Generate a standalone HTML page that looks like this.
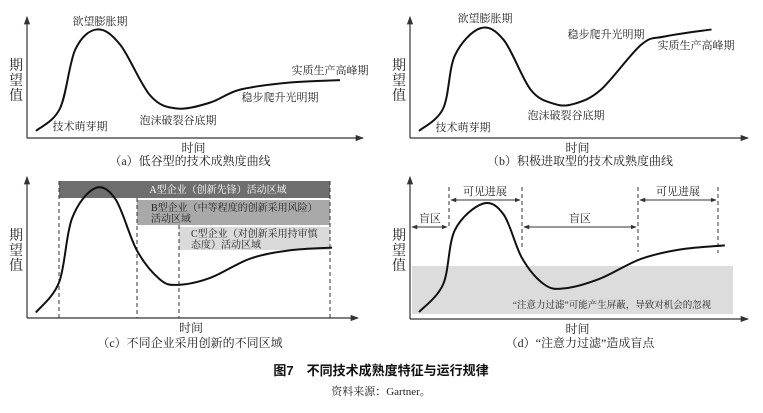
<!DOCTYPE html>
<html><head><meta charset="utf-8">
<style>
html,body{margin:0;padding:0;background:#fff;}
svg{display:block;font-family:"Liberation Serif","Noto Serif CJK SC","Noto Sans CJK SC",serif;}
.lab{font-size:11px;fill:#222;}
.ax{font-size:13px;fill:#222;}
.cap{font-size:12px;fill:#222;}
</style></head>
<body>
<svg id="fig" width="763" height="413" viewBox="0 0 763 413">
<defs>
<marker id="ah" viewBox="0 0 8 8" refX="7" refY="4" markerWidth="7" markerHeight="7" orient="auto"><path d="M0,1 L8,4 L0,7 z" fill="#333"/></marker>
<marker id="dh" viewBox="0 0 8 8" refX="7" refY="4" markerWidth="6" markerHeight="6" orient="auto-start-reverse"><path d="M0,1 L8,4 L0,7 z" fill="#333"/></marker>
</defs>

<!-- Panel C region bars -->
<rect x="59" y="181" width="271" height="17" fill="#6e6e6e"/>
<text x="218" y="193" text-anchor="middle" font-size="10" fill="#fff">A型企业（创新先锋）活动区域</text>
<rect x="137" y="200" width="193" height="25" fill="#a9a9a9"/>
<text x="151" y="211" font-size="10" fill="#222">B型企业（中等程度的创新采用风险）</text>
<text x="151" y="222" font-size="10" fill="#222">活动区域</text>
<rect x="179" y="227" width="151" height="23" fill="#dadada"/>
<text x="191" y="237" font-size="10" fill="#222">C型企业（对创新采用持审慎</text>
<text x="191" y="248" font-size="10" fill="#222">态度）活动区域</text>
<g stroke="#333" stroke-width="1" stroke-dasharray="4,3">
<line x1="59" y1="181" x2="59" y2="318"/><line x1="137" y1="198" x2="137" y2="318"/>
<line x1="179" y1="225" x2="179" y2="318"/><line x1="330" y1="181" x2="330" y2="318"/>
</g>

<!-- Panel D shaded area, dividers, arrows -->
<rect x="412" y="266" width="321" height="48" fill="#dcdcdc"/>
<text x="612" y="308" text-anchor="middle" font-size="9.5" fill="#222">“注意力过滤”可能产生屏蔽，导致对机会的忽视</text>
<g stroke="#333" stroke-width="1" stroke-dasharray="4,3">
<line x1="449" y1="187" x2="449" y2="229"/><line x1="522" y1="187" x2="522" y2="250"/>
<line x1="638" y1="187" x2="638" y2="252"/><line x1="718" y1="187" x2="718" y2="253"/>
</g>
<g stroke="#333" stroke-width="1">
<line x1="451" y1="200" x2="520" y2="200" marker-start="url(#dh)" marker-end="url(#dh)"/>
<line x1="640" y1="200" x2="716" y2="200" marker-start="url(#dh)" marker-end="url(#dh)"/>
<line x1="412" y1="227" x2="447" y2="227" marker-start="url(#dh)" marker-end="url(#dh)"/>
<line x1="524" y1="227" x2="636" y2="227" marker-start="url(#dh)" marker-end="url(#dh)"/>
</g>
<text x="485" y="195" text-anchor="middle" class="lab">可见进展</text>
<text x="678" y="195" text-anchor="middle" class="lab">可见进展</text>
<text x="430" y="222" text-anchor="middle" class="lab">盲区</text>
<text x="580" y="222" text-anchor="middle" class="lab">盲区</text>

<!-- Panel labels A -->
<text x="100" y="25" text-anchor="middle" class="lab">欲望膨胀期</text>
<text x="80" y="130" text-anchor="middle" class="lab">技术萌芽期</text>
<text x="178" y="124" text-anchor="middle" class="lab">泡沫破裂谷底期</text>
<text x="280" y="101" text-anchor="middle" class="lab">稳步爬升光明期</text>
<text x="330" y="74" text-anchor="middle" class="lab">实质生产高峰期</text>
<!-- Panel labels B -->
<text x="485" y="22" text-anchor="middle" class="lab">欲望膨胀期</text>
<text x="463" y="131" text-anchor="middle" class="lab">技术萌芽期</text>
<text x="566" y="119" text-anchor="middle" class="lab">泡沫破裂谷底期</text>
<text x="606" y="38" text-anchor="middle" class="lab">稳步爬升光明期</text>
<text x="696" y="49" text-anchor="middle" class="lab">实质生产高峰期</text>

<g id="panels"></g>

<text x="190" y="165" text-anchor="middle" class="cap">（a）低谷型的技术成熟度曲线</text>
<text x="580" y="165" text-anchor="middle" class="cap">（b）积极进取型的技术成熟度曲线</text>
<text x="190" y="347" text-anchor="middle" class="cap">（c）不同企业采用创新的不同区域</text>
<text x="580" y="347" text-anchor="middle" class="cap">（d）“注意力过滤”造成盲点</text>
<text x="381" y="375" text-anchor="middle" font-size="13" font-weight="bold" fill="#111" font-family="'Liberation Sans','Noto Sans CJK SC',sans-serif">图7　不同技术成熟度特征与运行规律</text>
<text x="381" y="395" text-anchor="middle" font-size="11" fill="#222">资料来源：Gartner。</text>
</svg>
<script>
// Curve data: time (0-100) and expectation (0-100) per panel
const aTime = [2.7, 9.9, 14.5, 21, 28, 37, 45, 55, 64, 79, 94];
const aExpect = [6, 25, 75, 92, 79, 36, 25, 30, 41, 47, 49];
const bTime = [2.7, 9.9, 13.4, 21, 28, 36, 43, 49, 57, 69, 76, 90];
const bExpect = [6, 25, 70, 93, 83, 41, 29, 29, 41, 79, 86, 92];
const cTime = [2.7, 9.8, 13.7, 20.7, 27, 33.5, 40.5, 46, 55.8, 68, 80, 93];
const cExpect = [4, 26, 72, 94, 86, 49, 28, 24, 29, 43, 49, 51];
const dTime = [2.7, 9.9, 13.4, 21.8, 28, 33.4, 40, 46, 56.7, 68.7, 80.6, 94];
const dExpect = [5, 25, 64, 83, 75, 44, 25, 22, 29, 43, 50, 53];

const panels = [
  {id:'a', t:aTime, e:aExpect, x0:27, x1:360, y0:138, y1:20, axisY:88},
  {id:'b', t:bTime, e:bExpect, x0:410, x1:745, y0:138, y1:20, axisY:88},
  {id:'c', t:cTime, e:cExpect, x0:27, x1:355, y0:318, y1:180, axisY:258},
  {id:'d', t:dTime, e:dExpect, x0:410, x1:745, y0:319, y1:180, axisY:258}
];
const NS = 'http://www.w3.org/2000/svg';
const root = document.getElementById('panels');
function mk(tag, attrs){const el=document.createElementNS(NS,tag);for(const k in attrs)el.setAttribute(k,attrs[k]);return el;}
panels.forEach(p=>{
  const xs = v => p.x0 + (p.x1 - p.x0) * v / 100;
  const ys = v => p.y0 - (p.y0 - p.y1) * v / 100;
  const g = mk('g',{});
  
  
  const xa = mk('line',{x1:p.x0,y1:p.y0,x2:p.x1+3,y2:p.y0,stroke:'#333','stroke-width':1.2,'marker-end':'url(#ah)'});
  
  
  const ya = mk('line',{x1:p.x0,y1:p.y0,x2:p.x0,y2:p.y1-3,stroke:'#333','stroke-width':1.2,'marker-end':'url(#ah)'});
  
  
  g.appendChild(xa); g.appendChild(ya);
  const pts = p.t.map((t,i)=>[xs(t), ys(p.e[i])]);
  let d = 'M' + pts[0][0] + ',' + pts[0][1];
  for(let i=0;i<pts.length-1;i++){
    const p0=pts[Math.max(i-1,0)], p1=pts[i], p2=pts[i+1], p3=pts[Math.min(i+2,pts.length-1)];
    const c1=[p1[0]+(p2[0]-p0[0])/6, p1[1]+(p2[1]-p0[1])/6];
    const c2=[p2[0]-(p3[0]-p1[0])/6, p2[1]-(p3[1]-p1[1])/6];
    d += ' C'+c1[0]+','+c1[1]+' '+c2[0]+','+c2[1]+' '+p2[0]+','+p2[1];
  }
  const path = mk('path',{d:d,fill:'none',stroke:'#111','stroke-width':2});
  
  
  g.appendChild(path);
  const yt = mk('text',{x:p.x0-11,y:p.axisY-18,'text-anchor':'middle','font-size':'14',fill:'#222'});
  
  
  ['期','望','值'].forEach((ch,i)=>{const ts=mk('tspan',{x:p.x0-11,dy:i?15:0});ts.textContent=ch;yt.appendChild(ts);});
  g.appendChild(yt);
  const xt = mk('text',{x:(p.x0+p.x1)/2,y:p.y0+14,'text-anchor':'middle','font-size':'12',fill:'#222'});
  
  
  xt.textContent='时间';
  g.appendChild(xt);
  root.appendChild(g);
});
</script>
</body></html>
